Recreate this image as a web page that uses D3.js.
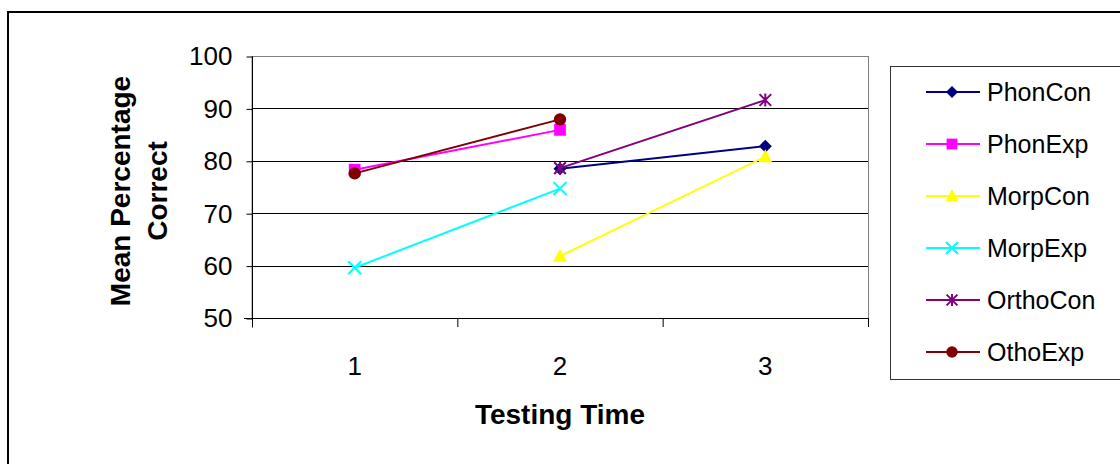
<!DOCTYPE html>
<html><head><meta charset="utf-8">
<script src="https://cdn.jsdelivr.net/npm/d3@7"></script>
<style>body{margin:0;background:#fff}svg{display:block;font-family:"Liberation Sans",Arial,sans-serif}</style>
</head><body><svg id="c" width="1120" height="464"></svg>
<script>
const times = ["1","2","3"];
const seriesNames = ["PhonCon","PhonExp","MorpCon","MorpExp","OrthoCon","OthoExp"];
const PhonCon = [null, 78.5, 82.8];
const PhonExp = [78.3, 85.9, null];
const MorpCon = [null, 61.8, 80.8];
const MorpExp = [59.6, 74.7, null];
const OrthoCon = [null, 78.6, 91.6];
const OthoExp = [77.6, 87.9, null];
const yTicks = [50, 60, 70, 80, 90, 100];
const colors = ["#000080","#FF00FF","#FFFF00","#00FFFF","#800080","#800000"];
const markers = ["diamond","square","triangle","x","asterisk","circle"];
const values = [PhonCon, PhonExp, MorpCon, MorpExp, OrthoCon, OthoExp];

const svg = d3.select("#c");
const L = 252, R = 868, T = 56, B = 318;
const x = d3.scaleBand().domain(times).range([L, R]);
const y = d3.scaleLinear().domain([50, 100]).range([B, T]);

// outer frame
svg.append("rect").attr("x", 8).attr("y", 12).attr("width", 1130).attr("height", 470)
  .attr("fill", "none").attr("stroke", "#000").attr("stroke-width", 2);

// plot border (gray)
svg.append("rect").attr("x", L).attr("y", T + 0.5).attr("width", R - L + 0.5).attr("height", B - T)
  .attr("fill", "none").attr("stroke", "#808080").attr("stroke-width", 1);

// gridlines
svg.append("g").selectAll("line").data(yTicks.filter(d => d > 50 && d < 100)).join("line")
  .attr("x1", L).attr("x2", R).attr("y1", d => Math.round(y(d)) + 0.5).attr("y2", d => Math.round(y(d)) + 0.5)
  .attr("stroke", "#000").attr("stroke-width", 1);

// y axis
const ya = svg.append("g").attr("transform", `translate(${L + 0.5},0.5)`)
  .call(d3.axisLeft(y).tickValues(yTicks).tickSize(6).tickPadding(14).tickFormat(d3.format("d")));
ya.attr("font-size", null).attr("font-family", null);
ya.select(".domain").attr("stroke", "#000").attr("d", `M0,${T}V${B + 9}`);
ya.selectAll(".tick line").attr("stroke", "#000");
ya.selectAll("text").style("font-size", "26px").attr("fill", "#000");

// x axis
const xa = svg.append("g").attr("transform", `translate(0,${B + 0.5})`)
  .call(d3.axisBottom(x).tickSize(0).tickPadding(38));
xa.attr("font-size", null).attr("font-family", null);
xa.select(".domain").attr("stroke", "#000").attr("d", `M${L - 8},0H${R}`);
xa.selectAll("text").style("font-size", "26px").attr("fill", "#000");
svg.append("g").selectAll("line").data(times.concat(["end"])).join("line")
  .attr("x1", (d, i) => L + i * x.bandwidth() + 0.5).attr("x2", (d, i) => L + i * x.bandwidth() + 0.5)
  .attr("y1", B).attr("y2", B + 9).attr("stroke", "#000");

// titles
svg.append("text").attr("x", (L + R) / 2).attr("y", 424).attr("text-anchor", "middle")
  .style("font-size", "28px").attr("font-weight", "bold").text("Testing Time");
const yt = svg.append("text").attr("transform", "translate(130,191) rotate(-90)").attr("text-anchor", "middle")
  .style("font-size", "28px").attr("font-weight", "bold");
yt.append("tspan").attr("x", 0).attr("dy", 0).text("Mean Percentage");
yt.append("tspan").attr("x", 0).attr("dy", 37).text("Correct");

function drawMarker(g, type, color, s) {
  if (type === "diamond") g.append("path").attr("d", `M0,${-s}L${s},0L0,${s}L${-s},0Z`).attr("fill", color);
  else if (type === "square") g.append("rect").attr("x", -s * 0.9).attr("y", -s * 0.9).attr("width", s * 1.8).attr("height", s * 1.8).attr("fill", color);
  else if (type === "triangle") g.append("path").attr("d", `M0,${-s * 1.15}L${s * 1.05},${s * 0.85}L${-s * 1.05},${s * 0.85}Z`).attr("fill", color);
  else if (type === "x") g.append("path").attr("d", `M${-s},${-s}L${s},${s}M${-s},${s}L${s},${-s}`).attr("stroke", color).attr("stroke-width", 2);
  else if (type === "asterisk") g.append("path").attr("d", `M${-s * 0.9},${-s * 0.9}L${s * 0.9},${s * 0.9}M${-s * 0.9},${s * 0.9}L${s * 0.9},${-s * 0.9}M0,${-s}V${s}`).attr("stroke", color).attr("stroke-width", 2);
  else if (type === "circle") g.append("circle").attr("r", s * 0.95).attr("fill", color);
}

const line = d3.line().defined(d => d.v != null).x(d => x(d.t) + x.bandwidth() / 2).y(d => y(d.v));
seriesNames.forEach((name, i) => {
  const pts = values[i].map((v, j) => ({ t: times[j], v }));
  svg.append("path").datum(pts).attr("d", line).attr("fill", "none")
    .attr("stroke", colors[i]).attr("stroke-width", 2);
  pts.filter(p => p.v != null).forEach(p => {
    const g = svg.append("g").attr("transform", `translate(${x(p.t) + x.bandwidth() / 2},${y(p.v)})`);
    drawMarker(g, markers[i], colors[i], 6.5);
  });
});

// legend
svg.append("rect").attr("x", 890.5).attr("y", 66.5).attr("width", 260).attr("height", 313)
  .attr("fill", "#fff").attr("stroke", "#333").attr("stroke-width", 1);
const ly = d3.scalePoint().domain(seriesNames).range([92, 352]);
seriesNames.forEach((name, i) => {
  const g = svg.append("g").attr("transform", `translate(0,${ly(name)})`);
  g.append("line").attr("x1", 926).attr("x2", 980).attr("y1", 0).attr("y2", 0).attr("stroke", colors[i]).attr("stroke-width", 2);
  const m = g.append("g").attr("transform", "translate(952,0)");
  drawMarker(m, markers[i], colors[i], 6);
  g.append("text").attr("x", 987).attr("y", 9).style("font-size", "25px").attr("fill", "#000").text(name);
});
</script></body></html>
